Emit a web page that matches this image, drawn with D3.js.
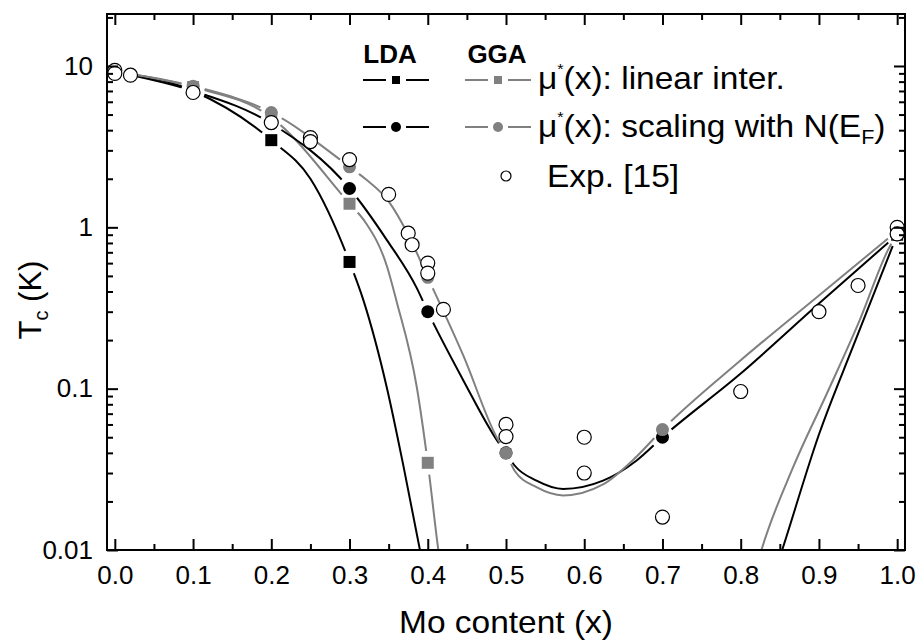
<!DOCTYPE html>
<html>
<head>
<meta charset="utf-8">
<script src="https://cdn.jsdelivr.net/npm/d3@7"></script>
<style>
  body { margin: 0; background: #fff; }
  text { font-family: "Liberation Sans", Arial, Helvetica, sans-serif; fill: #000; }
</style>
</head>
<body>
<svg id="chart" width="918" height="643"></svg>
<script>
// ---- axis ticks ----
const xTicks = [0, 0.1, 0.2, 0.3, 0.4, 0.5, 0.6, 0.7, 0.8, 0.9, 1.0];
const xTickLabels = ["0.0", "0.1", "0.2", "0.3", "0.4", "0.5", "0.6", "0.7", "0.8", "0.9", "1.0"];
const xMinorTicks = [0.05, 0.15, 0.25, 0.35, 0.45, 0.55, 0.65, 0.75, 0.85, 0.95];
const yTicks = [0.01, 0.1, 1, 10];
const yTickLabels = ["0.01", "0.1", "1", "10"];
const yMinorTicks = [0.02, 0.03, 0.04, 0.05, 0.06, 0.07, 0.08, 0.09,
                     0.2, 0.3, 0.4, 0.5, 0.6, 0.7, 0.8, 0.9,
                     2, 3, 4, 5, 6, 7, 8, 9, 20];

// ---- calculated Tc at the computed compositions (null = below 0.01 K) ----
const calcX        = [0, 0.1, 0.2, 0.3, 0.4, 0.5, 0.7, 1.0];
const ldaLinearTc  = [9.2, 7.0, 3.47, 0.61, null, null, null, 0.90];
const ggaLinearTc  = [9.2, 7.4, 4.8, 1.40, 0.0347, null, null, 0.92];
const ldaScalingTc = [9.2, 7.0, 4.4, 1.74, 0.30, 0.040, 0.050, 0.90];
const ggaScalingTc = [9.2, 7.5, 5.15, 2.37, 0.49, 0.0398, 0.0558, 0.95];

// ---- smooth Tc(x) curves, [x, Tc]; null separates pieces that leave the range ----
const ldaLinearCurve = [[0, 9.2], [0.1, 7.0], [0.2, 3.47], [0.25, 2.0], [0.3, 0.61], [0.318, 0.35],
  [0.348, 0.10], [0.369, 0.033], [0.39, 0.01], [0.40, 0.0055], null,
  [0.845, 0.0076], [0.853, 0.01], [0.90, 0.052], [0.945, 0.19], [1.0, 0.90]];
const ggaLinearCurve = [[0, 9.2], [0.1, 7.4], [0.2, 4.8], [0.3, 1.40], [0.32, 1.08], [0.348, 0.57],
  [0.36, 0.35], [0.386, 0.102], [0.4, 0.0347], [0.4135, 0.01], [0.42, 0.006], null,
  [0.82, 0.0078], [0.8265, 0.01], [0.867, 0.0326], [0.91, 0.093], [0.952, 0.265], [0.988, 0.72], [1.0, 0.92]];
const ldaScalingCurve = [[0, 9.2], [0.1, 7.0], [0.2, 4.4], [0.3, 1.74], [0.348, 0.83], [0.386, 0.42],
  [0.4, 0.30], [0.4455, 0.1125], [0.49, 0.0466], [0.5, 0.040], [0.511, 0.0334], [0.539, 0.0269],
  [0.573, 0.0239], [0.624, 0.0269], [0.667, 0.0359], [0.7, 0.050], [0.8, 0.124], [0.9, 0.337], [1.0, 0.90]];
const ggaScalingCurve = [[0, 9.2], [0.1, 7.5], [0.2, 5.15], [0.3, 2.37], [0.32, 2.0], [0.35, 1.45],
  [0.375, 0.90], [0.4, 0.49], [0.4455, 0.16], [0.488, 0.05], [0.5, 0.0398], [0.511, 0.031],
  [0.539, 0.0245], [0.573, 0.0218], [0.624, 0.0255], [0.667, 0.038], [0.7, 0.0558], [0.8, 0.150],
  [0.9, 0.378], [1.0, 0.95]];

// ---- experiment ----
const expX  = [0, 0, 0.02, 0.1, 0.2, 0.25, 0.25, 0.3, 0.35, 0.375, 0.38, 0.4, 0.4, 0.42,
               0.5, 0.5, 0.6, 0.6, 0.7, 0.8, 0.9, 0.95, 1.0, 1.0];
const expTc = [9.4, 9.0, 8.77, 6.85, 4.46, 3.6, 3.4, 2.63, 1.60, 0.92, 0.78, 0.60, 0.52, 0.31,
               0.060, 0.0505, 0.050, 0.030, 0.016, 0.096, 0.30, 0.436, 1.0, 0.91];

const BLACK = "#000", GREY = "#808080";

const svg = d3.select("#chart");
const L = 107, R = 905, T = 14, B = 550;
const x = d3.scaleLinear().domain([-0.01, 1.01]).range([L, R]);
const y = d3.scaleLog().domain([0.01, 21]).range([B, T]);

const defs = svg.append("defs");
defs.append("clipPath").attr("id", "plotClip")
  .append("rect").attr("x", L).attr("y", T).attr("width", R - L).attr("height", B - T);

const series = [
  { id: "ldaLin", curve: ldaLinearCurve, tc: ldaLinearTc, color: BLACK, shape: "square" },
  { id: "ggaLin", curve: ggaLinearCurve, tc: ggaLinearTc, color: GREY, shape: "square" },
  { id: "ldaSc",  curve: ldaScalingCurve, tc: ldaScalingTc, color: BLACK, shape: "circle" },
  { id: "ggaSc",  curve: ggaScalingCurve, tc: ggaScalingTc, color: GREY, shape: "circle" }
];

const inRange = v => v != null && v >= 0.01 && v <= 21;
const line = d3.line()
  .defined(d => d != null)
  .x(d => x(d[0])).y(d => y(d[1]))
  .curve(d3.curveMonotoneX);

const plot = svg.append("g").attr("clip-path", "url(#plotClip)");

// curves, each broken around its own symbols
series.forEach(s => {
  const m = defs.append("mask").attr("id", "gap-" + s.id).attr("maskUnits", "userSpaceOnUse")
    .attr("x", 0).attr("y", 0).attr("width", 918).attr("height", 643);
  m.append("rect").attr("width", 918).attr("height", 643).attr("fill", "#fff");
  calcX.forEach((cx, i) => {
    if (inRange(s.tc[i])) {
      m.append("circle").attr("cx", x(cx)).attr("cy", y(s.tc[i])).attr("r", 12).attr("fill", "#000");
    }
  });
  plot.append("path")
    .datum(s.curve)
    .attr("d", line)
    .attr("fill", "none")
    .attr("stroke", s.color)
    .attr("stroke-width", 2)
    .attr("mask", "url(#gap-" + s.id + ")");
});

// calculated symbols
series.forEach(s => {
  const pts = calcX.map((cx, i) => [cx, s.tc[i]]).filter(d => inRange(d[1]));
  if (s.shape === "square") {
    plot.selectAll(null).data(pts).enter().append("rect")
      .attr("x", d => x(d[0]) - 6).attr("y", d => y(d[1]) - 6)
      .attr("width", 12).attr("height", 12).attr("fill", s.color);
  } else {
    plot.selectAll(null).data(pts).enter().append("circle")
      .attr("cx", d => x(d[0])).attr("cy", d => y(d[1])).attr("r", 6.5).attr("fill", s.color);
  }
});

// experimental points
plot.selectAll(null).data(expX.map((v, i) => [v, expTc[i]])).enter().append("circle")
  .attr("cx", d => x(d[0])).attr("cy", d => y(d[1])).attr("r", 7)
  .attr("fill", "#fff").attr("stroke", BLACK).attr("stroke-width", 1.2);

// ---- axes (ticks inside on all four sides) ----
function styleAxis(g) {
  g.select(".domain").remove();
  g.selectAll(".tick line").attr("stroke", BLACK).attr("stroke-width", 2);
  g.selectAll(".tick text").attr("font-size", 26).attr("fill", BLACK);
}
const noLabel = () => "";

svg.append("g").attr("transform", `translate(0,${B})`)
  .call(d3.axisBottom(x).tickValues(xTicks).tickFormat((d, i) => xTickLabels[i])
    .tickSizeInner(-11).tickSizeOuter(0).tickPadding(16))
  .call(styleAxis);
svg.append("g").attr("transform", `translate(0,${B})`)
  .call(d3.axisBottom(x).tickValues(xMinorTicks).tickFormat(noLabel).tickSizeInner(-6).tickSizeOuter(0))
  .call(styleAxis);
svg.append("g").attr("transform", `translate(0,${T})`)
  .call(d3.axisTop(x).tickValues(xTicks).tickFormat(noLabel).tickSizeInner(-11).tickSizeOuter(0))
  .call(styleAxis);
svg.append("g").attr("transform", `translate(0,${T})`)
  .call(d3.axisTop(x).tickValues(xMinorTicks).tickFormat(noLabel).tickSizeInner(-6).tickSizeOuter(0))
  .call(styleAxis);

svg.append("g").attr("transform", `translate(${L},0)`)
  .call(d3.axisLeft(y).tickValues(yTicks).tickFormat((d, i) => yTickLabels[i])
    .tickSizeInner(-11).tickSizeOuter(0).tickPadding(14))
  .call(styleAxis);
svg.append("g").attr("transform", `translate(${L},0)`)
  .call(d3.axisLeft(y).tickValues(yMinorTicks).tickFormat(noLabel).tickSizeInner(-6).tickSizeOuter(0))
  .call(styleAxis);
svg.append("g").attr("transform", `translate(${R},0)`)
  .call(d3.axisRight(y).tickValues(yTicks).tickFormat(noLabel).tickSizeInner(-11).tickSizeOuter(0))
  .call(styleAxis);
svg.append("g").attr("transform", `translate(${R},0)`)
  .call(d3.axisRight(y).tickValues(yMinorTicks).tickFormat(noLabel).tickSizeInner(-6).tickSizeOuter(0))
  .call(styleAxis);

svg.append("rect").attr("x", L).attr("y", T).attr("width", R - L).attr("height", B - T)
  .attr("fill", "none").attr("stroke", BLACK).attr("stroke-width", 2);

// ---- axis titles ----
svg.append("text").attr("transform", `translate(${(L + R) / 2},633) scale(1.08,1)`)
  .attr("text-anchor", "middle").attr("font-size", 31).text("Mo content (x)");

const yt = svg.append("text").attr("transform", "translate(41,300) rotate(-90)")
  .attr("text-anchor", "middle").attr("font-size", 31);
yt.append("tspan").text("T");
yt.append("tspan").attr("font-size", 20).attr("dy", 7).text("c");
yt.append("tspan").attr("dy", -7).text(" (K)");

// ---- legend ----
const leg = svg.append("g");
leg.append("text").attr("x", 390).attr("y", 63).attr("text-anchor", "middle")
  .attr("font-size", 26).attr("font-weight", "bold").text("LDA");
leg.append("text").attr("x", 497).attr("y", 63).attr("text-anchor", "middle")
  .attr("font-size", 26).attr("font-weight", "bold").text("GGA");

function legendSample(cx, cy, color, shape) {
  leg.append("line").attr("x1", cx - 33).attr("x2", cx - 10).attr("y1", cy).attr("y2", cy)
    .attr("stroke", color).attr("stroke-width", 2);
  leg.append("line").attr("x1", cx + 10).attr("x2", cx + 33).attr("y1", cy).attr("y2", cy)
    .attr("stroke", color).attr("stroke-width", 2);
  if (shape === "square") {
    leg.append("rect").attr("x", cx - 4).attr("y", cy - 4).attr("width", 8).attr("height", 8).attr("fill", color);
  } else {
    leg.append("circle").attr("cx", cx).attr("cy", cy).attr("r", 5).attr("fill", color);
  }
}
legendSample(396, 80, BLACK, "square");
legendSample(498, 80, GREY, "square");
legendSample(396, 127, BLACK, "circle");
legendSample(498, 127, GREY, "circle");
leg.append("circle").attr("cx", 506).attr("cy", 176).attr("r", 5)
  .attr("fill", "#fff").attr("stroke", BLACK).attr("stroke-width", 1.2);

function legendText(x0, yb) {
  return leg.append("text").attr("transform", `translate(${x0},${yb}) scale(1.08,1)`).attr("font-size", 31);
}
function muLabel(yb, rest) {
  const t = legendText(538, yb);
  t.append("tspan").text("\u03BC");
  t.append("tspan").attr("font-size", 15).attr("dy", -15).text("*");
  t.append("tspan").attr("dy", 15).text(rest);
  return t;
}
muLabel(89, "(x): linear inter.");
const t2 = muLabel(137, "(x): scaling with N(E");
t2.append("tspan").attr("font-size", 20).attr("dy", 7).text("F");
t2.append("tspan").attr("dy", -7).text(")");
legendText(547, 187).text("Exp. [15]");
</script>
</body>
</html>
